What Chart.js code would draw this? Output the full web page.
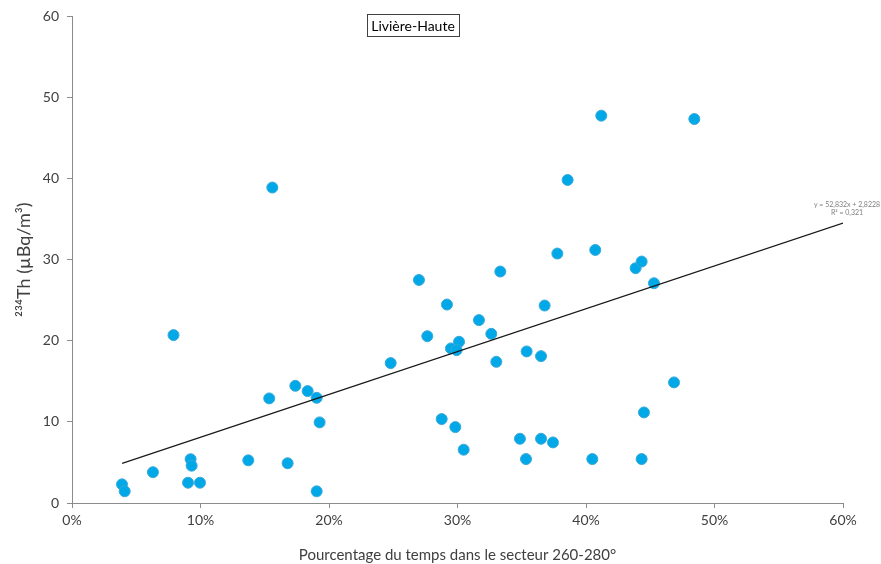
<!DOCTYPE html>
<html>
<head>
<meta charset="utf-8">
<script src="https://cdn.jsdelivr.net/npm/chart.js@4"></script>
<style>
  html, body { margin: 0; padding: 0; background: #fff; }
</style>
</head>
<body>
<canvas id="chart-th" width="881" height="564"></canvas>
<script>
// fraction of time in sector 260-280°
const pctTime = [
  0.0389, 0.041, 0.063, 0.079, 0.0923, 0.0931, 0.0903, 0.0996, 0.1372, 0.1559,
  0.1535, 0.1738, 0.1834, 0.1904, 0.1927, 0.1678, 0.1904,
  0.4119, 0.3857, 0.3777, 0.4072, 0.4386, 0.4433, 0.4529, 0.3333, 0.270, 0.2918,
  0.3678, 0.3167, 0.2765, 0.3263, 0.3012, 0.2949, 0.2993, 0.248, 0.3538, 0.365,
  0.3302, 0.4685, 0.4451, 0.2877, 0.2983, 0.3048, 0.3486, 0.365, 0.3743, 0.3533,
  0.4049, 0.4433, 0.4843
];
// 234Th activity (µBq/m3)
const th234 = [
  2.3, 1.45, 3.8, 20.7, 5.4, 4.6, 2.5, 2.5, 5.26, 38.9,
  12.9, 14.45, 13.8, 12.97, 9.94, 4.9, 1.44,
  47.76, 39.83, 30.76, 31.2, 28.95, 29.77, 27.1, 28.54, 27.5, 24.47,
  24.35, 22.55, 20.57, 20.86, 19.88, 19.06, 18.85, 17.25, 18.69, 18.11,
  17.41, 14.87, 11.17, 10.35, 9.36, 6.57, 7.92, 7.92, 7.47, 5.42,
  5.42, 5.42, 47.35
];
// linear trendline endpoints
const trendX = [0.039, 0.6];
const trendY = [4.88, 34.52];
const trendLabel = ['y = 52,832x + 2,8228', 'R² = 0,321'];
const siteName = 'Livière-Haute';
const xTicks = [0, 0.1, 0.2, 0.3, 0.4, 0.5, 0.6];

const FONT = 'Lato, "Open Sans", sans-serif';
const axisColor = '#8c8c8c';

const overlay = {
  id: 'overlay',
  afterDatasetsDraw(chart) {
    const { ctx, scales } = chart;
    ctx.save();
    // trendline equation
    ctx.fillStyle = '#7f7f7f';
    ctx.font = '7px ' + FONT;
    ctx.textAlign = 'center';
    const ex = scales.x.getPixelForValue(trendX[1]);
    const ey = scales.y.getPixelForValue(trendY[1]);
    ctx.fillText(trendLabel[0], ex + 4, ey - 16);
    ctx.fillText(trendLabel[1], ex + 4, ey - 8);
    // site label box
    ctx.font = '14px ' + FONT;
    ctx.fillStyle = '#000';
    ctx.textBaseline = 'middle';
    const w = ctx.measureText(siteName).width + 8;
    const cx = 413, cy = 25;
    ctx.strokeStyle = '#404040';
    ctx.lineWidth = 1;
    ctx.strokeRect(Math.round(cx - w / 2) + 0.5, 14.5, Math.round(w), 22);
    ctx.fillText(siteName, cx, cy + 1);
    ctx.restore();
  }
};

new Chart(document.getElementById('chart-th').getContext('2d'), {
  type: 'scatter',
  data: {
    datasets: [
      {
        label: '234Th',
        data: pctTime.map((x, i) => ({ x: x, y: th234[i] })),
        backgroundColor: '#00a8e8',
        borderColor: '#3aa9d8',
        borderWidth: 1,
        pointRadius: 5.5,
        order: 1,
      },
      {
        label: 'trend',
        type: 'line',
        data: trendX.map((x, i) => ({ x: x, y: trendY[i] })),
        borderColor: '#1a1a1a',
        borderWidth: 1.2,
        pointRadius: 0,
        fill: false,
        order: 0,
      },
    ],
  },
  options: {
    responsive: false,
    animation: false,
    events: [],
    layout: { padding: { top: 16, right: 38, left: 0, bottom: 0 } },
    plugins: {
      legend: { display: false },
      tooltip: { enabled: false },
    },
    scales: {
      x: {
        type: 'linear',
        min: 0,
        max: 0.6,
        afterBuildTicks: (s) => { s.ticks = xTicks.map((v) => ({ value: v })); },
        afterFit: (s) => { s.height = 61; },
        ticks: {
          color: '#404040',
          font: { family: FONT, size: 14 },
          padding: 4,
          maxRotation: 0,
          minRotation: 0,
          callback: (v) => Math.round(v * 100) + '%',
        },
        grid: { drawOnChartArea: false, drawTicks: true, tickLength: 5, color: axisColor },
        border: { display: true, color: axisColor, width: 1 },
        title: {
          display: true,
          text: 'Pourcentage du temps dans le secteur 260-280°',
          color: '#404040',
          font: { family: FONT, size: 15 },
          padding: { top: 8, bottom: 0 },
        },
      },
      y: {
        min: 0,
        max: 60,
        ticks: {
          stepSize: 10,
          color: '#404040',
          font: { family: FONT, size: 14 },
          padding: 8,
        },
        afterFit: (s) => { s.width = 72; },
        grid: { drawOnChartArea: false, drawTicks: true, tickLength: 5, color: axisColor },
        border: { display: true, color: axisColor, width: 1 },
        title: {
          display: true,
          text: '²³⁴Th (µBq/m³)',
          color: '#404040',
          font: { family: FONT, size: 18 },
          padding: { top: 13, bottom: 6 },
        },
      },
    },
  },
  plugins: [overlay],
});
</script>
</body>
</html>
